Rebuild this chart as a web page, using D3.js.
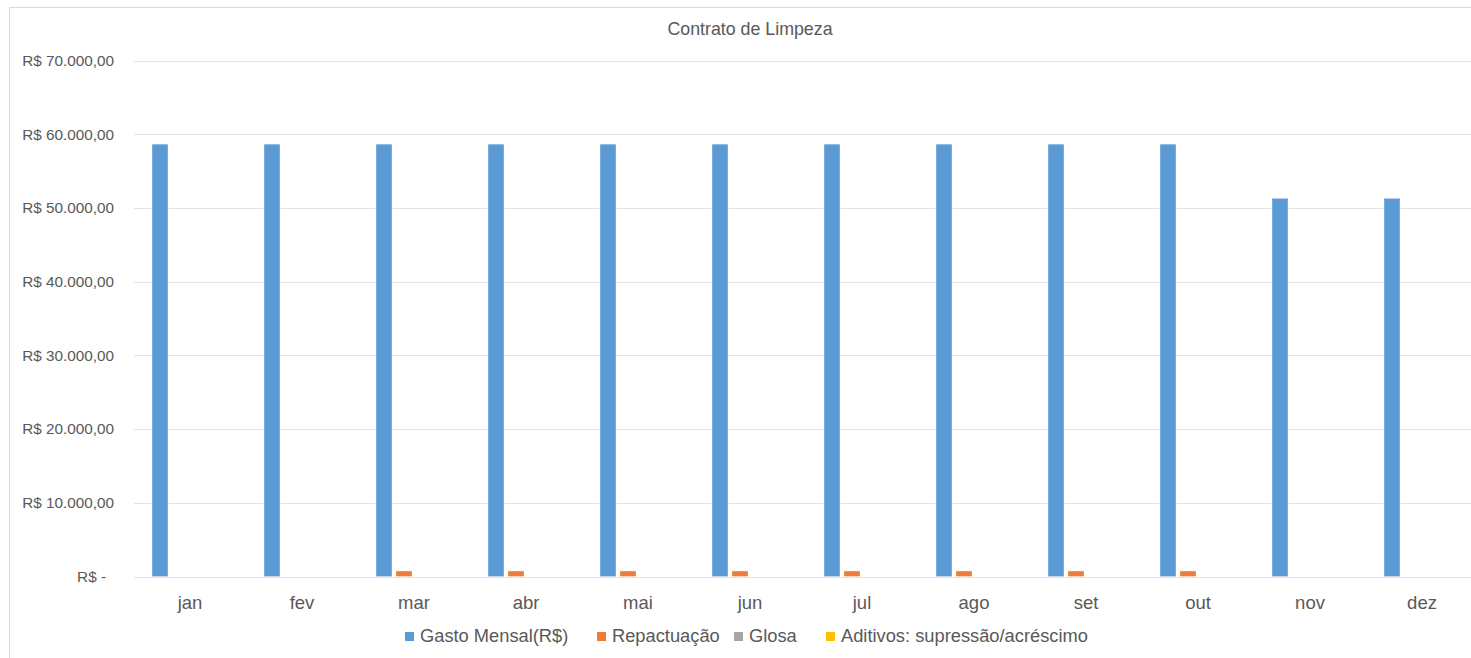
<!DOCTYPE html><html>
<head>
  <meta charset="utf-8">
  <title>Contrato de Limpeza</title>
  <style>
    body { margin: 0; background: #fff; }
    text { font-family: "Liberation Sans", Arial, sans-serif; fill: #595959; }
  </style>
</head><body>

<svg width="1471" height="658"></svg>

<script src="https://cdn.jsdelivr.net/npm/d3@7"></script>
<script>
// valores
var meses   = ['jan','fev','mar','abr','mai','jun','jul','ago','set','out','nov','dez'];
var series  = ['Gasto Mensal(R$)', 'Repactuação', 'Glosa', 'Aditivos: supressão/acréscimo'];
var gasto   = [58650,58650,58650,58650,58650,58650,58650,58650,58650,58650,51300,51300];
var repact  = [0,0,750,750,750,750,750,750,750,750,0,0];
var glosa   = [0,0,0,0,0,0,0,0,0,0,0,0];
var aditivo = [0,0,0,0,0,0,0,0,0,0,0,0];
var yTicks  = [0,10000,20000,30000,40000,50000,60000,70000];
var cores   = ['#5b9bd5','#ed7d31','#a5a5a5','#ffc000'];

var valores = [gasto, repact, glosa, aditivo];
var data = meses.map(function(m, i) {
  return { mes: m, v: valores.map(function(s) { return s[i]; }) };
});

var svg = d3.select('svg');

// moldura
svg.append('rect')
  .attr('x', 9.5).attr('y', 7.5).attr('width', 1480).attr('height', 670)
  .attr('fill', 'none').attr('stroke', '#d9d9d9');

var x0 = d3.scaleBand().domain(meses).range([134, 1478])
  .paddingInner(32/112).paddingOuter(16/112);
var x1 = d3.scaleBand().domain(d3.range(series.length)).range([0, x0.bandwidth()])
  .paddingInner(0.2).paddingOuter(0.1);
var y = d3.scaleLinear().domain([0, 70000]).range([576.5, 60.5]);

var fmt = d3.formatLocale({ decimal: ',', thousands: '.', grouping: [3], currency: ['R$ ', ''] }).format('$,.2f');

// grade
svg.append('g').selectAll('line')
    .data(yTicks)
  .enter().append('line')
    .attr('x1', 134).attr('x2', 1471)
    .attr('y1', function(d) { return Math.round(y(d)) + 0.5; })
    .attr('y2', function(d) { return Math.round(y(d)) + 0.5; })
    .attr('stroke', '#e3e3e3').attr('stroke-width', 1);

// eixo y (rótulos)
var yAxis = svg.append('g').attr('transform', 'translate(114,0)')
  .call(d3.axisLeft(y).tickValues(yTicks).tickSize(0).tickPadding(0)
    .tickFormat(function(d) { return d === 0 ? 'R$ -' : fmt(d); }));
yAxis.select('.domain').remove();
yAxis.selectAll('text')
  .attr('font-size', 15.3).attr('fill', '#595959')
  .attr('x', function(d) { return d === 0 ? -8 : 0; });

// barras
var grupos = svg.append('g').selectAll('g')
    .data(data)
  .enter().append('g')
    .attr('transform', function(d) { return 'translate(' + x0(d.mes) + ',0)'; });

grupos.selectAll('rect')
    .data(function(d) { return d.v.map(function(v, i) { return { i: i, v: v }; }); })
  .enter().filter(function(d) { return d.v > 0; }).append('rect')
    .attr('x', function(d) { return x1(d.i); })
    .attr('width', x1.bandwidth())
    .attr('y', function(d) { return y(d.v); })
    .attr('height', function(d) { return y(0) - y(d.v); })
    .attr('fill', function(d) { return cores[d.i]; })
    .attr('stroke', 'rgba(255,255,255,0.35)').attr('stroke-width', 1);

// eixo x (rótulos)
var xAxis = svg.append('g').attr('transform', 'translate(0,' + y(0) + ')')
  .call(d3.axisBottom(x0).tickSize(0).tickPadding(19));
xAxis.select('.domain').remove();
xAxis.selectAll('text').attr('font-size', 18.5).attr('fill', '#595959');

// título
svg.append('text')
  .attr('x', 750).attr('y', 30).attr('text-anchor', 'middle')
  .attr('dominant-baseline', 'middle').attr('font-size', 17.8)
  .text('Contrato de Limpeza');

// legenda
var legX = [405, 597, 734, 826];
var leg = svg.append('g').selectAll('g')
    .data(series)
  .enter().append('g')
    .attr('transform', function(d, i) { return 'translate(' + legX[i] + ',632)'; });
leg.append('rect').attr('width', 9).attr('height', 9)
  .attr('fill', function(d, i) { return cores[i]; });
leg.append('text').attr('x', 15).attr('y', 5)
  .attr('dominant-baseline', 'middle').attr('font-size', 18.3)
  .text(function(d) { return d; });
</script>
</body></html>
